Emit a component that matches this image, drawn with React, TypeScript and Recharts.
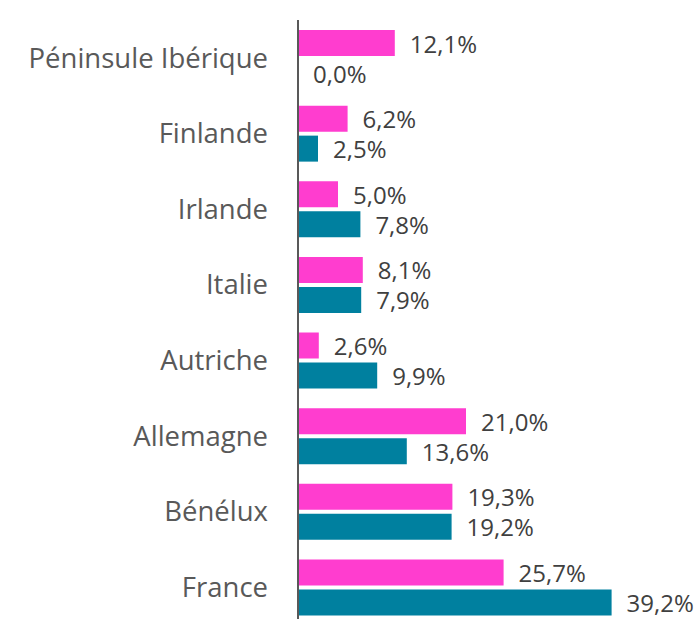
import React from 'react';
import { BarChart, Bar, XAxis, YAxis, LabelList } from 'recharts';

const categories = ['Péninsule Ibérique', 'Finlande', 'Irlande', 'Italie', 'Autriche', 'Allemagne', 'Bénélux', 'France'];
const pinkValues = [12.1, 6.2, 5.0, 8.1, 2.6, 21.0, 19.3, 25.7];
const tealValues = [0.0, 2.5, 7.8, 7.9, 9.9, 13.6, 19.2, 39.2];

const data = categories.map((c, i) => ({ name: c, a: pinkValues[i], b: tealValues[i] }));

const fmt = (v: any) => Number(v).toFixed(1).replace('.', ',') + '%';
const FONT = '"Open Sans", sans-serif';
const GAP = 4;

const LabelText = ({ x, y, text }: { x: number; y: number; text: string }) => (
  <text
    x={x}
    y={y}
    dominantBaseline="central"
    textAnchor="start"
    fill="#404040"
    fontSize={24}
    fontFamily={FONT}
  >
    {text}
  </text>
);

const ValueLabel = (props: any) => {
  const { x, y, width, height, value } = props;
  return <LabelText x={Number(x) + Number(width || 0) + 15} y={Number(y) + Number(height) / 2} text={fmt(value)} />;
};

// Pink label; also draws the teal label when the teal bar has zero length
// (Recharts skips labels for zero-length bars).
const PinkLabel = (props: any) => {
  const { x, y, width, height, value, index } = props;
  const nx = Number(x);
  const ny = Number(y);
  const h = Number(height);
  const teal = tealValues[index];
  return (
    <g>
      <LabelText x={nx + Number(width || 0) + 15} y={ny + h / 2} text={fmt(value)} />
      {teal === 0 ? <LabelText x={nx + 15} y={ny + h + GAP + h / 2} text={fmt(teal)} /> : null}
    </g>
  );
};

export default function App() {
  return (
    <div style={{ position: 'absolute', left: 0, top: 0 }}>
      <BarChart
        width={698}
        height={630}
        data={data}
        layout="vertical"
        margin={{ top: 20, right: 0, bottom: 5, left: 0 }}
        barSize={26}
        barGap={GAP}
      >
        <XAxis type="number" domain={[0, 50]} hide />
        <YAxis
          type="category"
          dataKey="name"
          width={298}
          tickLine={false}
          tickSize={0}
          tickMargin={30}
          axisLine={{ stroke: '#595959', strokeWidth: 2 }}
          tick={{ fill: '#595959', fontSize: 27.5, fontFamily: FONT }}
          interval={0}
        />
        <Bar dataKey="a" fill="#FF3DCF" isAnimationActive={false}>
          <LabelList dataKey="a" content={PinkLabel} />
        </Bar>
        <Bar dataKey="b" fill="#00809F" isAnimationActive={false}>
          <LabelList dataKey="b" content={ValueLabel} />
        </Bar>
      </BarChart>
    </div>
  );
}
